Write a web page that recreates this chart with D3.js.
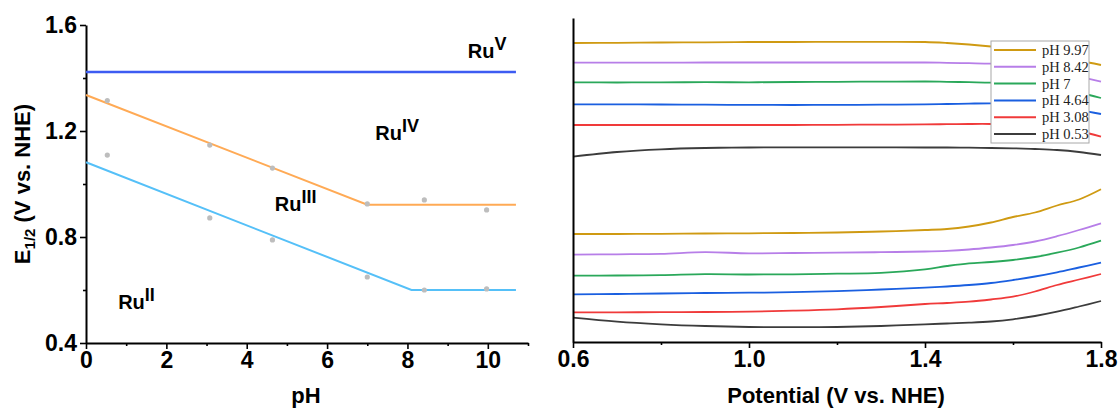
<!DOCTYPE html>
<html>
<head>
<meta charset="utf-8">
<script src="https://cdn.jsdelivr.net/npm/d3@7"></script>
<style>
  body { margin: 0; background: #fff; }
  svg { display: block; }
  text { font-family: "Liberation Sans", Arial, sans-serif; font-weight: bold; }
</style>
</head>
<body>
<svg id="chart" width="1118" height="408"></svg>
<script>
// ---- left panel: Pourbaix-style diagram ----
const measuredPH = [0.53, 3.08, 4.64, 7, 8.42, 9.97];
const e43 = [1.315, 1.147, 1.06, 0.925, 0.94, 0.902];
const e32 = [1.109, 0.872, 0.789, 0.649, 0.6, 0.604];

const fitRu54 = [[0, 1.423], [10.7, 1.423]];
const fitRu43 = [[0, 1.336], [7, 0.922], [10.7, 0.922]];
const fitRu32 = [[0, 1.082], [8.1, 0.6], [10.7, 0.6]];

const regionLabels = [
  { ox: "V", ph: 9.5, e: 1.475 },
  { ox: "IV", ph: 7.2, e: 1.165 },
  { ox: "III", ph: 4.7, e: 0.898 },
  { ox: "II", ph: 0.8, e: 0.528 }
];

const phTicks = [0, 2, 4, 6, 8, 10];
const phMinor = [1, 3, 5, 7, 9, 11];
const eTicks = [0.4, 0.8, 1.2, 1.6];
const eMinor = [0.6, 1.0, 1.4];

// ---- right panel: CVs at different pH (offset, arbitrary units) ----
const potentials = [0.6, 0.7, 0.8, 0.9, 1.0, 1.1, 1.2, 1.3, 1.4, 1.45, 1.5, 1.55, 1.6, 1.65, 1.7, 1.75, 1.8];

const upper997 = [29.9, 29.92, 29.95, 29.97, 30.0, 30.0, 30.02, 30.02, 30.0, 29.9, 29.75, 29.55, 29.3, 29.0, 28.65, 28.15, 27.7];
const lower997 = [10.8, 10.8, 10.82, 10.85, 10.87, 10.9, 10.95, 11.05, 11.2, 11.3, 11.55, 11.95, 12.5, 12.95, 13.65, 14.25, 15.27];
const upper842 = [27.93, 27.93, 27.94, 27.95, 27.95, 27.95, 27.95, 27.95, 27.95, 27.92, 27.88, 27.83, 27.7, 27.45, 27.1, 26.55, 26.03];
const lower842 = [8.73, 8.77, 8.82, 8.98, 8.87, 8.9, 8.94, 8.98, 9.05, 9.12, 9.25, 9.45, 9.7, 10.05, 10.58, 11.2, 11.87];
const upper700 = [25.97, 25.95, 25.97, 25.98, 25.97, 26.0, 26.02, 26.04, 26.05, 26.02, 25.98, 25.94, 25.85, 25.65, 25.4, 24.95, 24.4];
const lower700 = [6.63, 6.65, 6.68, 6.78, 6.75, 6.77, 6.83, 6.92, 7.27, 7.6, 7.87, 8.0, 8.2, 8.5, 8.93, 9.45, 10.13];
const upper464 = [23.77, 23.76, 23.75, 23.73, 23.71, 23.7, 23.71, 23.73, 23.77, 23.8, 23.84, 23.87, 23.85, 23.75, 23.55, 23.2, 22.8];
const lower464 = [4.77, 4.8, 4.85, 4.9, 4.93, 4.98, 5.08, 5.25, 5.43, 5.55, 5.7, 5.9, 6.2, 6.55, 6.97, 7.45, 7.93];
const upper308 = [21.7, 21.7, 21.7, 21.7, 21.7, 21.7, 21.72, 21.74, 21.76, 21.78, 21.8, 21.8, 21.75, 21.65, 21.45, 21.1, 20.53];
const lower308 = [2.97, 2.97, 2.98, 3.0, 3.03, 3.13, 3.27, 3.5, 3.8, 3.9, 4.03, 4.25, 4.53, 5.05, 5.7, 6.25, 6.8];
const upper053 = [18.53, 19.0, 19.27, 19.4, 19.45, 19.47, 19.47, 19.47, 19.45, 19.45, 19.43, 19.4, 19.37, 19.3, 19.2, 19.0, 18.7];
const lower053 = [2.43, 2.03, 1.77, 1.6, 1.5, 1.48, 1.5, 1.6, 1.77, 1.85, 1.93, 2.05, 2.27, 2.6, 3.03, 3.55, 4.1];

const cvLabels = ["pH 9.97", "pH 8.42", "pH 7", "pH 4.64", "pH 3.08", "pH 0.53"];
const cvColors = ["#cf9a12", "#b77ee8", "#2aa85a", "#1a5fe0", "#f03a3a", "#3c3c3c"];
const cvUpper = [upper997, upper842, upper700, upper464, upper308, upper053];
const cvLower = [lower997, lower842, lower700, lower464, lower308, lower053];

const potTicks = [0.6, 1.0, 1.4, 1.8];
const potMinor = [0.8, 1.2, 1.6];

const svg = d3.select("#chart");

// ---------- left panel ----------
const xL = d3.scaleLinear().domain([0, 11]).range([86, 528]);
const yL = d3.scaleLinear().domain([0.4, 1.6]).range([343, 25]);

function styleAxis(g) {
  g.select(".domain").attr("stroke", "#000").attr("stroke-width", 2);
  g.selectAll(".tick line").attr("stroke", "#000").attr("stroke-width", 1.6);
  g.selectAll(".tick text").attr("fill", "#000")
    .style("font-size", "23px").style("font-weight", "bold")
    .style("font-family", '"Liberation Sans", Arial, sans-serif');
}

svg.append("g")
  .attr("transform", `translate(0,${yL.range()[0]})`)
  .call(d3.axisBottom(xL).tickValues(phMinor).tickSize(3).tickSizeOuter(0).tickFormat(""))
  .call(g => g.select(".domain").remove())
  .call(styleAxis);
svg.append("g")
  .attr("transform", `translate(0,${yL.range()[0]})`)
  .call(d3.axisBottom(xL).tickValues(phTicks).tickSize(6).tickSizeOuter(0).tickFormat(d3.format("d")))
  .call(styleAxis);

svg.append("g")
  .attr("transform", `translate(${xL.range()[0]},0)`)
  .call(d3.axisLeft(yL).tickValues(eMinor).tickSize(3).tickFormat(""))
  .call(g => g.select(".domain").remove())
  .call(styleAxis);
svg.append("g")
  .attr("transform", `translate(${xL.range()[0]},0)`)
  .call(d3.axisLeft(yL).tickValues(eTicks).tickSize(6).tickSizeOuter(0).tickFormat(d3.format(".1f")))
  .call(styleAxis);

const lineL = d3.line().x(d => xL(d[0])).y(d => yL(d[1]));

svg.append("path").datum(fitRu54).attr("d", lineL)
  .attr("fill", "none").attr("stroke", "#3d5cf2").attr("stroke-width", 2.5);
svg.append("path").datum(fitRu43).attr("d", lineL)
  .attr("fill", "none").attr("stroke", "#ffaa55").attr("stroke-width", 2);
svg.append("path").datum(fitRu32).attr("d", lineL)
  .attr("fill", "none").attr("stroke", "#55c0f8").attr("stroke-width", 2);

const dots = measuredPH.flatMap((ph, i) => [[ph, e43[i]], [ph, e32[i]]]);
svg.append("g").selectAll("circle")
  .data(dots)
  .enter()
  .append("circle")
  .attr("cx", d => xL(d[0]))
  .attr("cy", d => yL(d[1]))
  .attr("r", 2.6)
  .attr("fill", "#bdbdbd");

const ruText = svg.append("g").selectAll("text")
  .data(regionLabels)
  .enter()
  .append("text")
  .attr("x", d => xL(d.ph))
  .attr("y", d => yL(d.e))
  .style("font-size", "20px");
ruText.append("tspan").text("Ru");
ruText.append("tspan").attr("dy", -8).style("font-size", "18px").text(d => d.ox);

svg.append("text")
  .attr("x", (xL.range()[0] + xL.range()[1]) / 2 - 1)
  .attr("y", 403)
  .attr("text-anchor", "middle")
  .style("font-size", "22px")
  .text("pH");

const yTitle = svg.append("text")
  .attr("transform", "translate(30,184) rotate(-90)")
  .attr("text-anchor", "middle")
  .style("font-size", "22px");
yTitle.append("tspan").text("E");
yTitle.append("tspan").attr("dy", 5).style("font-size", "15px").text("1/2");
yTitle.append("tspan").attr("dy", -5).text(" (V vs. NHE)");

// ---------- right panel ----------
const xR = d3.scaleLinear().domain([0.6, 1.8]).range([573, 1101]);
const yR = d3.scaleLinear().domain([0, 32.4]).range([342, 18]);

const lineR = d3.line()
  .x((d, i) => xR(potentials[i]))
  .y(d => yR(d))
  .curve(d3.curveCatmullRom.alpha(0.5));

const curves = svg.append("g");
cvLabels.forEach((lab, i) => {
  [cvUpper[i], cvLower[i]].forEach(vals => {
    curves.append("path")
      .datum(vals)
      .attr("d", lineR)
      .attr("fill", "none")
      .attr("stroke", cvColors[i])
      .attr("stroke-width", 1.8);
  });
});

svg.append("g")
  .attr("transform", `translate(0,${yR.range()[0]})`)
  .call(d3.axisBottom(xR).tickValues(potMinor).tickSize(3).tickSizeOuter(0).tickFormat(""))
  .call(g => g.select(".domain").remove())
  .call(styleAxis);
svg.append("g")
  .attr("transform", `translate(0,${yR.range()[0]})`)
  .call(d3.axisBottom(xR).tickValues(potTicks).tickSize(6).tickSizeOuter(0).tickFormat(d3.format(".1f")))
  .call(styleAxis);
svg.append("g")
  .attr("transform", `translate(${xR.range()[0]},0)`)
  .call(d3.axisLeft(yR).tickValues([]).tickSizeOuter(0))
  .call(styleAxis);

svg.append("text")
  .attr("x", 836)
  .attr("y", 403)
  .attr("text-anchor", "middle")
  .style("font-size", "22px")
  .text("Potential (V vs. NHE)");

// legend
const legend = svg.append("g").attr("transform", "translate(991,41)");
legend.append("rect")
  .attr("width", 98).attr("height", 102)
  .attr("fill", "#fff").attr("stroke", "#a8a8a8").attr("stroke-width", 1);
const items = legend.selectAll("g.item")
  .data(cvLabels)
  .enter()
  .append("g")
  .attr("transform", (d, i) => `translate(0,${9 + i * 16.8})`);
items.append("line")
  .attr("x1", 3).attr("x2", 45)
  .attr("stroke", (d, i) => cvColors[i]).attr("stroke-width", 2);
items.append("text")
  .attr("x", 51).attr("dy", "0.35em")
  .style("font-family", '"Liberation Serif", "DejaVu Serif", serif')
  .style("font-weight", "normal")
  .style("font-size", "14.5px")
  .attr("fill", "#222")
  .text(d => d);
</script>
</body>
</html>
